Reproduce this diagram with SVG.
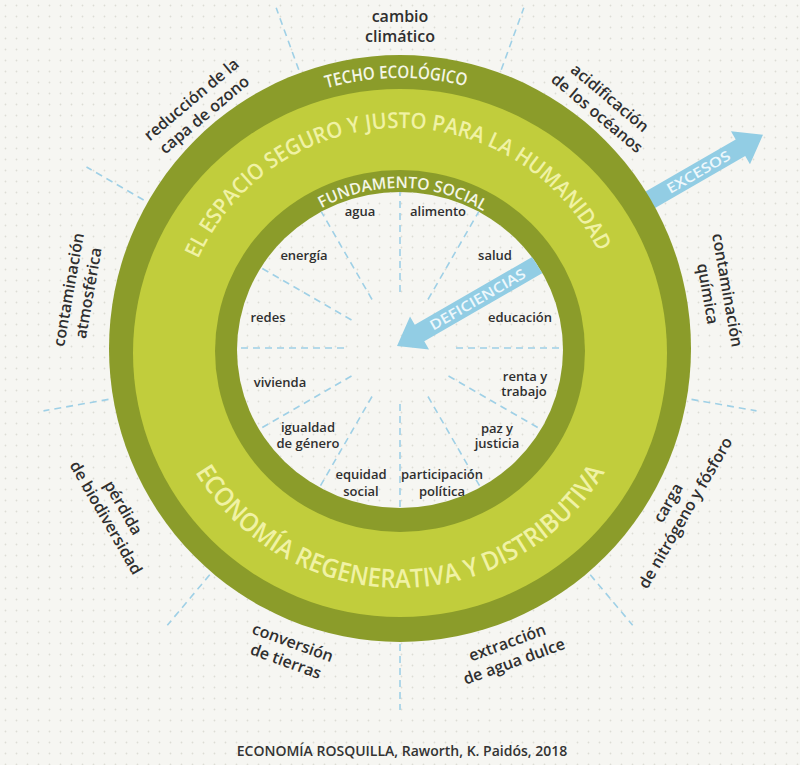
<svg xmlns="http://www.w3.org/2000/svg" width="800" height="765" viewBox="0 0 800 765">
<style>
.lbl{font-family:'Open Sans','Liberation Sans',sans-serif;font-size:16px;font-weight:600;fill:#2f2f2f;text-anchor:middle}
.in{font-family:'Open Sans','Liberation Sans',sans-serif;font-size:13px;font-weight:600;fill:#2f2f2f;text-anchor:middle}
.dash{stroke:#9fd0e6;stroke-width:1.6;stroke-dasharray:7 5;fill:none}
.arc{font-family:'Open Sans','Liberation Sans',sans-serif;font-weight:600}
.arrowtxt{font-family:'Open Sans','Liberation Sans',sans-serif;font-size:14px;font-weight:600;fill:#eef8fc;text-anchor:middle}
.dark{fill:#8b9c2a}
.light{fill:#c1cd3c}
.blue{fill:#92cde4}
</style>
<defs>
<pattern id="dots" x="0" y="0" width="11" height="11" patternUnits="userSpaceOnUse">
<circle cx="5.5" cy="5.5" r="0.9" fill="#dcdcd5"/>
</pattern>
<clipPath id="innerClip"><ellipse cx="400" cy="350" rx="163" ry="158"/></clipPath>
<path id="techoPath" d="M129,349 A271,271 0 0 1 671,349"/>
<path id="espacioPath" d="M179,349 A221,221 0 0 1 621,349"/>
<path id="fundPath" d="M238,350 A162,162 0 0 1 562,350"/>
<path id="ecoPath" d="M161,349 A239,239 0 0 0 639,349"/>
</defs>

<rect width="800" height="765" fill="#f6f6f2"/>
<rect width="800" height="765" fill="url(#dots)"/>

<g id="connectors">
<g transform="translate(400,348)">
<line class="dash" x1="296" y1="0" x2="362" y2="0" transform="rotate(-110)"/>
<line class="dash" x1="296" y1="0" x2="362" y2="0" transform="rotate(-70)"/>
<line class="dash" x1="296" y1="0" x2="362" y2="0" transform="rotate(10)"/>
<line class="dash" x1="296" y1="0" x2="362" y2="0" transform="rotate(50)"/>
<line class="dash" x1="296" y1="0" x2="362" y2="0" transform="rotate(90)"/>
<line class="dash" x1="296" y1="0" x2="362" y2="0" transform="rotate(130)"/>
<line class="dash" x1="296" y1="0" x2="362" y2="0" transform="rotate(170)"/>
<line class="dash" x1="296" y1="0" x2="362" y2="0" transform="rotate(-150)"/>
</g>
</g>

<g id="arrow-excesos">
<g transform="translate(397,346) rotate(-30)">
<polygon class="blue" points="250,-9.5 396.6,-9.5 396.6,-19 422.6,0 396.6,19 396.6,9.5 250,9.5"/>
<text class="arrowtxt" x="348" y="5" textLength="71" lengthAdjust="spacingAndGlyphs">EXCESOS</text>
</g>
</g>

<g id="donut">
<ellipse class="dark" cx="400" cy="348.5" rx="291" ry="293.5"/>
<ellipse class="light" cx="400" cy="353" rx="267" ry="264"/>
<ellipse class="dark" cx="400" cy="351" rx="185" ry="181"/>
<ellipse cx="400" cy="350" rx="163" ry="158" fill="#f6f6f2"/>
<ellipse cx="400" cy="350" rx="163" ry="158" fill="url(#dots)"/>
<text class="arc" font-size="17.5" fill="#f4f6e6"><textPath href="#techoPath" startOffset="351" textLength="141" lengthAdjust="spacingAndGlyphs">TECHO ECOLÓGICO</textPath></text>
<text class="arc" font-size="22" fill="#f0f2a4"><textPath href="#espacioPath" startOffset="92.6" textLength="501" lengthAdjust="spacingAndGlyphs">EL ESPACIO SEGURO Y JUSTO PARA LA HUMANIDAD</textPath></text>
<text class="arc" font-size="16" fill="#f4f6e6"><textPath href="#fundPath" startOffset="172.5" textLength="169.6" lengthAdjust="spacingAndGlyphs">FUNDAMENTO SOCIAL</textPath></text>
<text class="arc" font-size="26" fill="#f0f2a4"><textPath href="#ecoPath" startOffset="129.3" textLength="492" lengthAdjust="spacingAndGlyphs">ECONOMÍA REGENERATIVA Y DISTRIBUTIVA</textPath></text>
</g>

<g id="inner-dividers" clip-path="url(#innerClip)">
<g transform="translate(400,348)">
<line class="dash" x1="56" y1="0" x2="170" y2="0" transform="rotate(-90)"/>
<line class="dash" x1="56" y1="0" x2="170" y2="0" transform="rotate(-60)"/>
<line class="dash" x1="56" y1="0" x2="170" y2="0" transform="rotate(0)"/>
<line class="dash" x1="56" y1="0" x2="170" y2="0" transform="rotate(30)"/>
<line class="dash" x1="56" y1="0" x2="170" y2="0" transform="rotate(60)"/>
<line class="dash" x1="56" y1="0" x2="170" y2="0" transform="rotate(90)"/>
<line class="dash" x1="56" y1="0" x2="170" y2="0" transform="rotate(120)"/>
<line class="dash" x1="56" y1="0" x2="170" y2="0" transform="rotate(150)"/>
<line class="dash" x1="56" y1="0" x2="170" y2="0" transform="rotate(180)"/>
<line class="dash" x1="56" y1="0" x2="170" y2="0" transform="rotate(-150)"/>
<line class="dash" x1="56" y1="0" x2="170" y2="0" transform="rotate(-120)"/>
</g>
</g>

<g id="arrow-deficiencias" clip-path="url(#innerClip)">
<g transform="translate(397,346) rotate(-30)">
<polygon class="blue" points="0,0 26,-19 26,-9.5 185,-9.5 185,9.5 26,9.5 26,19"/>
<text class="arrowtxt" x="93" y="5" textLength="108" lengthAdjust="spacingAndGlyphs">DEFICIENCIAS</text>
</g>
</g>

<g id="social-labels">
<text id="n-agua" class="in" x="360" y="216">agua</text>
<text id="n-alimento" class="in" x="438" y="216">alimento</text>
<text id="n-energia" class="in" x="304" y="260">energía</text>
<text id="n-salud" class="in" x="495" y="260">salud</text>
<text id="n-redes" class="in" x="268" y="322">redes</text>
<text id="n-educacion" class="in" x="520" y="322">educación</text>
<text id="n-vivienda" class="in" x="280" y="387">vivienda</text>
<text id="n-renta" class="in"><tspan x="525" y="381">renta y</tspan><tspan x="524" y="396">trabajo</tspan></text>
<text id="n-igualdad" class="in"><tspan x="308" y="432">igualdad</tspan><tspan x="308" y="448">de género</tspan></text>
<text id="n-paz" class="in"><tspan x="497" y="433">paz y</tspan><tspan x="497" y="448">justicia</tspan></text>
<text id="n-equidad" class="in"><tspan x="361" y="479">equidad</tspan><tspan x="361" y="496">social</tspan></text>
<text id="n-participacion" class="in"><tspan x="442" y="479">participación</tspan><tspan x="442" y="496">política</tspan></text>
</g>

<g id="eco-labels">
<g id="n-cambio" transform="translate(400,348) rotate(0) translate(0,-321)"><text class="lbl"><tspan x="0" y="-5">cambio</tspan><tspan x="0" y="15">climático</tspan></text></g>
<g id="n-acidificacion" transform="translate(400,348) rotate(40) translate(0,-316)"><text class="lbl"><tspan x="0" y="-5">acidificación</tspan><tspan x="0" y="15">de los océanos</tspan></text></g>
<g id="n-quimica" transform="translate(400,348) rotate(80) translate(0,-322)"><text class="lbl"><tspan x="0" y="-5">contaminación</tspan><tspan x="0" y="15">química</tspan></text></g>
<g id="n-carga" transform="translate(400,348) rotate(120) translate(0,-320) rotate(180)"><text class="lbl"><tspan x="0" y="-5">carga</tspan><tspan x="0" y="15">de nitrógeno y fósforo</tspan></text></g>
<g id="n-extraccion" transform="translate(400,348) rotate(160) translate(0,-324) rotate(180)"><text class="lbl"><tspan x="0" y="-5">extracción</tspan><tspan x="0" y="15">de agua dulce</tspan></text></g>
<g id="n-conversion" transform="translate(400,348) rotate(200) translate(0,-324) rotate(180)"><text class="lbl"><tspan x="0" y="-5">conversión</tspan><tspan x="0" y="15">de tierras</tspan></text></g>
<g id="n-perdida" transform="translate(400,348) rotate(240) translate(0,-330) rotate(180)"><text class="lbl"><tspan x="0" y="-5">pérdida</tspan><tspan x="0" y="15">de biodiversidad</tspan></text></g>
<g id="n-atmosferica" transform="translate(400,348) rotate(280) translate(0,-326)"><text class="lbl"><tspan x="0" y="-5">contaminación</tspan><tspan x="0" y="15">atmosférica</tspan></text></g>
<g id="n-ozono" transform="translate(400,348) rotate(320) translate(0,-314)"><text class="lbl"><tspan x="0" y="-5">reducción de la</tspan><tspan x="0" y="15">capa de ozono</tspan></text></g>
</g>

<text id="caption" x="402" y="756" font-family="'Open Sans','Liberation Sans',sans-serif" font-size="14" font-weight="600" fill="#333" text-anchor="middle">ECONOMÍA ROSQUILLA, Raworth, K. Paidós, 2018</text>
</svg>
